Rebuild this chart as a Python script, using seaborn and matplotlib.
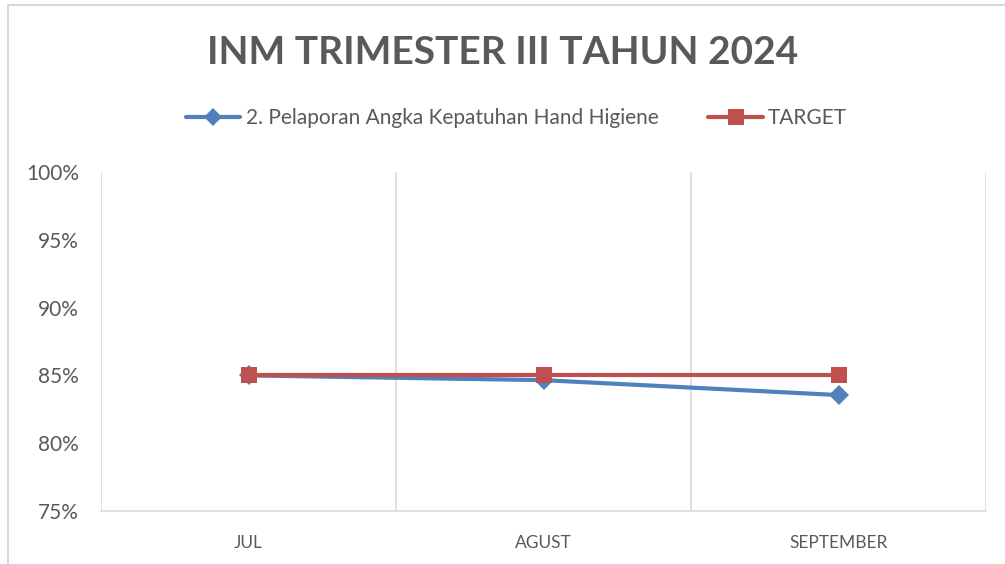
import pandas as pd
import matplotlib
matplotlib.use("Agg")
import matplotlib.pyplot as plt
from matplotlib.ticker import PercentFormatter, FixedLocator
from matplotlib.patches import Rectangle
import seaborn as sns

bulan = ["JUL", "AGUST", "SEPTEMBER"]
kepatuhan = [0.85, 0.8465, 0.8355]
target = [0.85, 0.85, 0.85]
nama_seri = "2. Pelaporan Angka Kepatuhan Hand Higiene"
nama_target = "TARGET"

sns.set_style("white")
plt.rcParams["font.family"] = ["Lato", "DejaVu Sans"]

GREY = "#595959"
GRID = "#d9d9d9"


def main():
    df = pd.DataFrame({
        "bulan": bulan * 2,
        "nilai": kepatuhan + target,
        "seri": [nama_seri] * len(bulan) + [nama_target] * len(bulan),
    })

    fig = plt.figure(figsize=(10.05, 5.64), dpi=100)
    ax = fig.add_axes([101 / 1005, 1 - 511 / 564, 885 / 1005, 339 / 564])

    # chart border
    fig.patches.append(Rectangle((8 / 1005, -0.1), 1.2, (1 - 5 / 564) + 0.1,
                                 transform=fig.transFigure, fill=False,
                                 edgecolor=GRID, linewidth=1.5))

    sns.lineplot(data=df, x="bulan", y="nilai", hue="seri", style="seri",
                 hue_order=[nama_seri, nama_target],
                 palette={nama_seri: "#4F81BD", nama_target: "#C0504D"},
                 markers={nama_seri: "D", nama_target: "s"},
                 dashes=False, linewidth=3, markersize=10,
                 markeredgewidth=0, ax=ax, legend=False)
    for line in ax.lines:
        if line.get_marker() == "s":
            line.set_markersize(12)
            line.set_zorder(4)

    ax.set_ylim(0.75, 1.0)
    ax.set_xlim(-0.5, 2.5)
    ax.yaxis.set_major_formatter(PercentFormatter(1, decimals=0))
    ax.set_yticks([0.75, 0.80, 0.85, 0.90, 0.95, 1.0])
    ax.xaxis.set_minor_locator(FixedLocator([-0.5, 0.5, 1.5, 2.5]))
    ax.grid(axis="x", which="minor", color=GRID, linewidth=1.2)
    ax.grid(axis="y", visible=False)
    ax.set_xlabel("")
    ax.set_ylabel("")
    for side in ["top", "right", "left"]:
        ax.spines[side].set_visible(False)
    ax.spines["bottom"].set_color(GRID)
    ax.spines["bottom"].set_linewidth(1.2)
    ax.tick_params(axis="y", labelsize=15, labelcolor=GREY, length=0, pad=16)
    ax.tick_params(axis="x", which="both", labelsize=12.5, labelcolor=GREY,
                   length=0, pad=17)

    fig.text(0.5, 1 - 52 / 564, "INM TRIMESTER III TAHUN 2024",
             ha="center", va="center", fontsize=28, fontweight="bold",
             color=GREY)

    handles = [
        plt.Line2D([], [], color="#4F81BD", marker="D", lw=3, markersize=9,
                   markeredgewidth=0),
        plt.Line2D([], [], color="#C0504D", marker="s", lw=3, markersize=11,
                   markeredgewidth=0),
    ]
    fig.legend(handles, [nama_seri, nama_target], loc="center",
               bbox_to_anchor=(0.514, 1 - 118 / 564), ncol=2, frameon=False,
               fontsize=15, labelcolor=GREY, handlelength=2.6,
               handletextpad=0.25, columnspacing=2.4)

    fig.savefig("out.png", dpi=100)


if __name__ == "__main__":
    main()
